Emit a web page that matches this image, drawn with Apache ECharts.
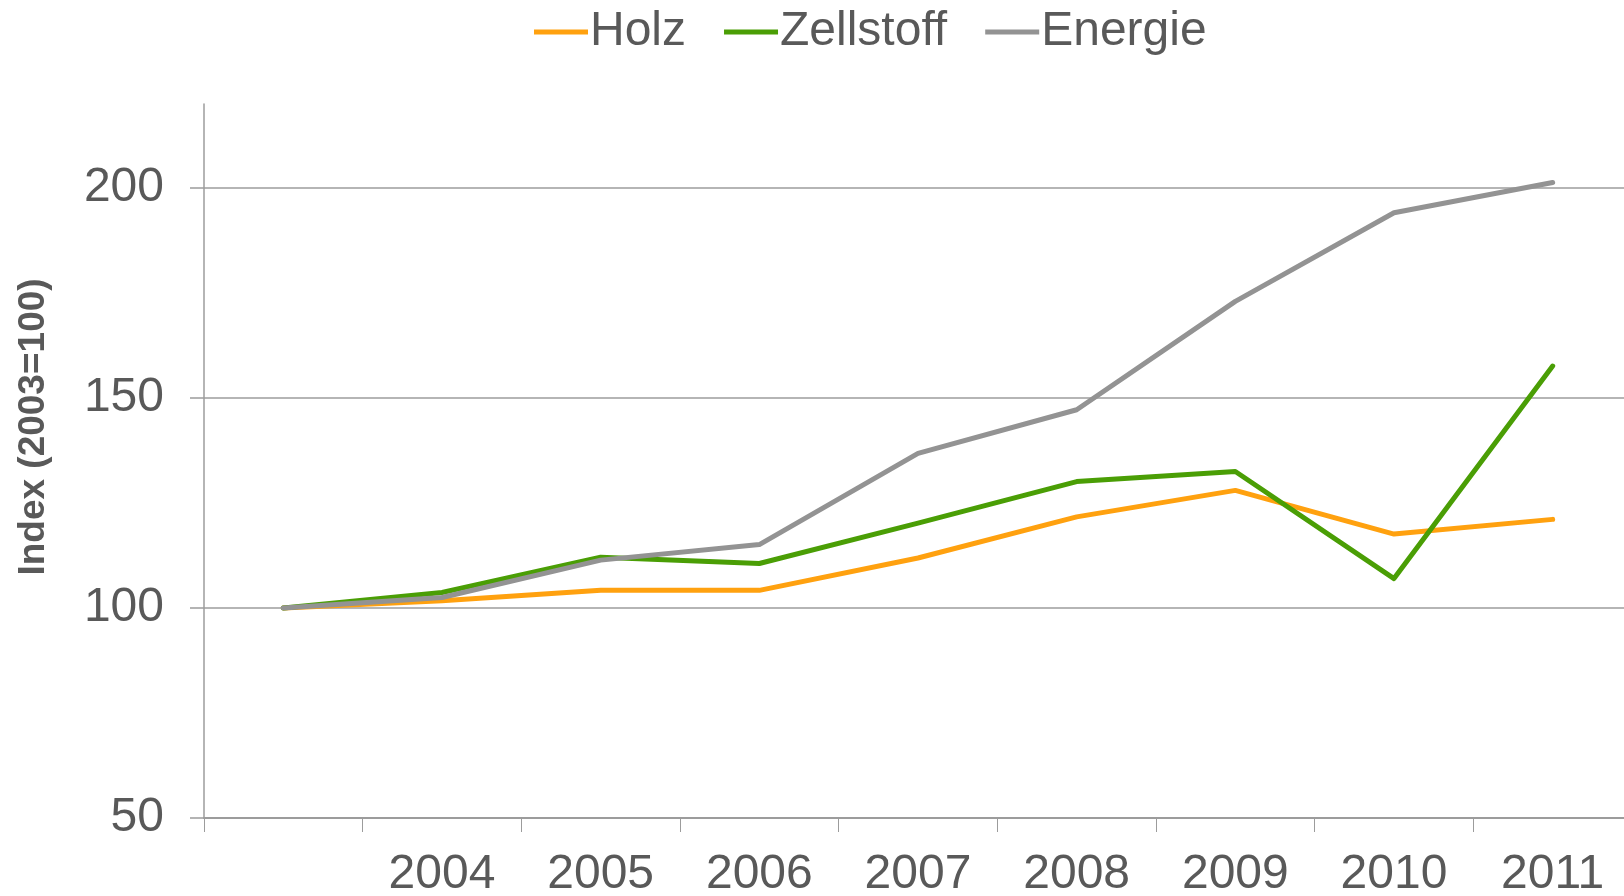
<!DOCTYPE html>
<html>
<head>
<meta charset="utf-8">
<script src="https://cdn.jsdelivr.net/npm/echarts@6/dist/echarts.min.js"></script>
<style>
html,body{margin:0;padding:0;background:#fff;}
#chart{width:1624px;height:896px;}
</style>
</head>
<body>
<div id="chart"></div>
<script>
const categories = ['2003', '2004', '2005', '2006', '2007', '2008', '2009', '2010', '2011'];
const xTickLabels = ['', '2004', '2005', '2006', '2007', '2008', '2009', '2010', '2011'];
const yTickValues = [50, 100, 150, 200];
const holz = [100, 101.7, 104.2, 104.2, 111.9, 121.7, 128.0, 117.6, 121.1];
const zellstoff = [100, 103.7, 112.1, 110.6, 120.2, 130.1, 132.5, 107.0, 157.6];
const energie = [100, 102.5, 111.4, 115.1, 136.8, 147.2, 173.0, 194.1, 201.3];

const FONT = '"Liberation Sans", Arial, sans-serif';
const TEXT = '#595959';
const GRID = '#9c9c9c';

const chart = echarts.init(document.getElementById('chart'), null, {renderer: 'canvas'});
chart.setOption({
  animation: false,
  backgroundColor: '#ffffff',
  textStyle: {fontFamily: FONT},
  legend: {
    show: true,
    left: 529,
    top: 3,
    icon: 'rect',
    itemWidth: 54,
    itemHeight: 5,
    itemGap: 38,
    textStyle: {fontFamily: FONT, fontSize: 48, color: TEXT, padding: [0, 0, 0, -3]},
    data: ['Holz', 'Zellstoff', 'Energie']
  },
  grid: {left: 204, right: -8, top: 104, bottom: 78, containLabel: false, outerBoundsMode: 'none'},
  xAxis: {
    type: 'category',
    data: categories,
    boundaryGap: true,
    axisLine: {show: true, lineStyle: {color: GRID, width: 2}},
    axisTick: {show: true, length: 14, alignWithLabel: false, interval: 0, lineStyle: {color: GRID, width: 1}},
    axisLabel: {
      show: true, interval: 0, margin: 33,
      fontFamily: FONT, fontSize: 48, color: TEXT,
      formatter: function (v, i) { return xTickLabels[i]; }
    },
    splitLine: {show: false}
  },
  yAxis: {
    type: 'value',
    min: 50,
    max: 220,
    interval: 50,
    name: 'Index (2003=100)',
    nameLocation: 'middle',
    nameGap: 152,
    nameRotate: 90,
    nameTextStyle: {fontFamily: FONT, fontSize: 37, fontWeight: 'bold', color: TEXT, padding: [0, 0, 0, 68]},
    axisLine: {show: true, lineStyle: {color: GRID, width: 1.5}},
    axisTick: {show: true, inside: false, length: 14, customValues: yTickValues, lineStyle: {color: GRID, width: 1.5}},
    axisLabel: {
      show: true, margin: 40, customValues: yTickValues,
      fontFamily: FONT, fontSize: 48, color: TEXT
    },
    splitLine: {show: true, lineStyle: {color: [GRID, GRID, GRID, GRID, 'rgba(0,0,0,0)'], width: 1.5}}
  },
  series: [
    {name: 'Holz', type: 'line', data: holz, symbol: 'none', smooth: false,
     itemStyle: {color: '#ffa10f'}, lineStyle: {color: '#ffa10f', width: 5, cap: 'round', join: 'round'}},
    {name: 'Zellstoff', type: 'line', data: zellstoff, symbol: 'none', smooth: false,
     itemStyle: {color: '#4a9e05'}, lineStyle: {color: '#4a9e05', width: 5, cap: 'round', join: 'round'}},
    {name: 'Energie', type: 'line', data: energie, symbol: 'none', smooth: false,
     itemStyle: {color: '#939393'}, lineStyle: {color: '#939393', width: 5, cap: 'round', join: 'round'}}
  ]
});
</script>
</body>
</html>
